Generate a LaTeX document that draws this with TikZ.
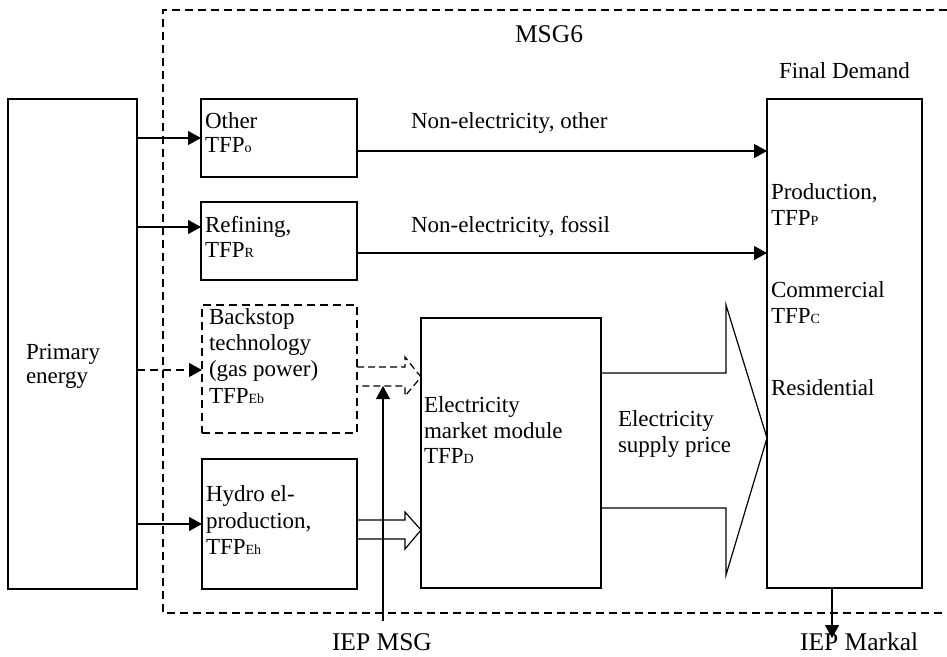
\documentclass[tikz,border=0pt]{standalone}
\usepackage{fontspec}
\setmainfont{Liberation Serif}
\usetikzlibrary{arrows.meta}
\newcommand\sbs[1]{{\fontsize{14}{14}\selectfont #1}}
\begin{document}
\begin{tikzpicture}[x=1pt,y=-1pt,
  font=\fontsize{23}{25}\selectfont,
  box/.style={draw,line width=1.2pt,inner sep=0pt,outer sep=0pt,anchor=north west},
  lbl/.style={anchor=base west,inner sep=0pt,outer sep=0pt},
  big/.style={font=\fontsize{25.5}{27}\selectfont},
  arr/.style={line width=1.2pt,-{Triangle[length=13pt,width=14pt]}},
  dsh/.style={dash pattern=on 8pt off 5pt},
  ln/.style={line width=1.2pt}]
\useasboundingbox (0,0) rectangle (947,656);
% frame
\draw[dsh,line width=1.1pt] (947,10) -- (163,10) -- (163,613) -- (947,613);
% boxes
\node[box,minimum width=129pt,minimum height=490pt] (prim) at (8,99) {};
\node[box,minimum width=156pt,minimum height=78pt] (oth) at (201,99) {};
\node[box,minimum width=156pt,minimum height=78pt] (ref) at (201,202) {};
\node[box,dsh,minimum width=155pt,minimum height=128pt] (back) at (202,305) {};
\node[box,minimum width=155pt,minimum height=130pt] (hyd) at (202,459) {};
\node[box,minimum width=180pt,minimum height=270pt] (mkt) at (421,318) {};
\node[box,minimum width=155pt,minimum height=489pt] (fd) at (767,99) {};
% texts
\node[lbl,big] (tmsg) at (515,42) {MSG6};
\node[lbl] (tfd) at (779,78) {Final Demand};
\node[lbl] (tp1) at (26,359) {Primary};
\node[lbl] (tp2) at (26,383) {energy};
\node[lbl] (to1) at (205,128) {Other};
\node[lbl] (to2) at (205,152) {TFP\sbs{o}};
\node[lbl] (tr1) at (205,232) {Refining,};
\node[lbl] (tr2) at (205,257) {TFP\sbs{R}};
\node[lbl] (tb1) at (209,324) {Backstop};
\node[lbl] (tb2) at (209,350) {technology};
\node[lbl] (tb3) at (209,376) {(gas power)};
\node[lbl] (tb4) at (209,403) {TFP\sbs{Eb}};
\node[lbl] (th1) at (206,501) {Hydro el-};
\node[lbl] (th2) at (206,528) {production,};
\node[lbl] (th3) at (206,554) {TFP\sbs{Eh}};
\node[lbl] (tm1) at (424,412) {Electricity};
\node[lbl] (tm2) at (424,438) {market module};
\node[lbl] (tm3) at (424,463) {TFP\sbs{D}};
\node[lbl] (ts1) at (618,426) {Electricity};
\node[lbl] (ts2) at (618,452) {supply price};
\node[lbl] (tf1) at (771,199) {Production,};
\node[lbl] (tf2) at (771,225) {TFP\sbs{P}};
\node[lbl] (tf3) at (771,297) {Commercial};
\node[lbl] (tf4) at (771,323) {TFP\sbs{C}};
\node[lbl] (tf5) at (771,395) {Residential};
\node[lbl] (tno) at (411,128) {Non-electricity, other};
\node[lbl] (tnf) at (411,232) {Non-electricity, fossil};
\node[lbl,big] (tiepm) at (332,650) {IEP MSG};
\node[lbl,big] (tiepk) at (800,650) {IEP Markal};
% arrows from primary energy
\draw[arr] (prim.east |- 0,138) -- (oth.west |- 0,138);
\draw[arr] (prim.east |- 0,227) -- (ref.west |- 0,227);
\draw[arr,dsh] (prim.east |- 0,370) -- (back.west |- 0,370);
\draw[arr] (prim.east |- 0,524) -- (hyd.west |- 0,524);
% to final demand
\draw[arr] (oth.east |- 0,151) -- (fd.west |- 0,151);
\draw[arr] (ref.east |- 0,253) -- (fd.west |- 0,253);
% hollow arrows
\draw[ln,dsh,dash pattern=on 7pt off 4pt] (back.east |- 0,367) -- (405,367) -- (405,357) -- (mkt.west |- 0,377) -- (405,396) -- (405,386) -- (back.east |- 0,386);
\draw[ln] (hyd.east |- 0,520) -- (405,520) -- (405,512) -- (mkt.west |- 0,530) -- (405,549) -- (405,539) -- (hyd.east |- 0,539);
\draw[ln] (mkt.east |- 0,373) -- (726,373) -- (726,305) -- (fd.west |- 0,438) -- (726,575) -- (726,508) -- (mkt.east |- 0,508);
% IEP links
\coordinate (msgfoot) at (383,621);
\coordinate (msgtip) at (383,386);
\draw[arr] (msgfoot) -- (msgtip);
\coordinate (mkfoot) at (832,638);
\draw[arr] (fd.south -| mkfoot) -- (mkfoot);
\end{tikzpicture}
\end{document}
